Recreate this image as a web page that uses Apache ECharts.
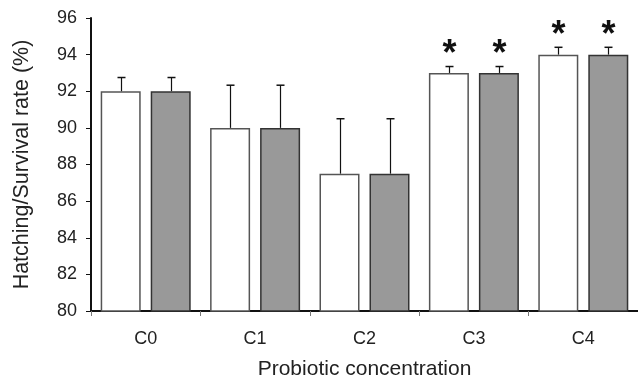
<!DOCTYPE html>
<html><head><meta charset="utf-8">
<script src="https://cdn.jsdelivr.net/npm/echarts@6/dist/echarts.min.js"></script>
<style>html,body{margin:0;padding:0;background:#fff}#c{width:638px;height:385px}</style>
</head><body><div id="c"></div>
<script>
const categories = ['C0','C1','C2','C3','C4'];
const hatching = [92, 90, 87.5, 93, 94];
const hatchingErr = [0.75, 2.33, 3.0, 0.35, 0.4];
const survival = [92, 90, 87.5, 93, 94];
const survivalErr = [0.75, 2.33, 3.0, 0.35, 0.4];
const significant = ['', '', '', '*', '*'];
const yTicks = [80, 82, 84, 86, 88, 90, 92, 94, 96];

const FONT = '"Liberation Sans", Arial, sans-serif';
const BAR_W = 40, OFFSET = 25;
function errSeries(vals, errs, off) {
  return {
    type: 'custom', z: 5,
    data: vals.map((v, i) => [i, v, v + errs[i], significant[i]]),
    renderItem: function (params, api) {
      const base = api.coord([api.value(0), api.value(1)]);
      const top = api.coord([api.value(0), api.value(2)]);
      const x = Math.round(base[0] + off) + 0.5;
      const children = [
        {type: 'line', shape: {x1: x, y1: base[1], x2: x, y2: top[1]}, style: {stroke: '#111', lineWidth: 1.2}},
        {type: 'line', shape: {x1: x - 4, y1: top[1], x2: x + 4, y2: top[1]}, style: {stroke: '#111', lineWidth: 1.5}}
      ];
      const s = api.value(3);
      if (s) children.push({type: 'text', style: {text: s, x: x, y: top[1] + 7, align: 'center', verticalAlign: 'bottom', font: 'bold 36px ' + FONT, fill: '#111'}});
      return {type: 'group', children: children};
    }
  };
}

const chart = echarts.init(document.getElementById('c'), null, {renderer: 'canvas'});
chart.setOption({
  animation: false,
  grid: {left: 91, top: 18, width: 550, height: 293},
  xAxis: {
    type: 'category', data: categories,
    axisLine: {lineStyle: {color: '#111', width: 2}},
    axisTick: {show: true, length: 5, lineStyle: {color: '#777', width: 1}},
    axisLabel: {fontSize: 18, color: '#222', margin: 19, fontFamily: FONT},
    name: 'Probiotic concentration', nameLocation: 'middle', nameGap: 48,
    nameTextStyle: {fontSize: 21, color: '#222', fontFamily: FONT}
  },
  yAxis: {
    type: 'value', min: 80, max: 96, interval: 2,
    axisLine: {show: true, lineStyle: {color: '#111', width: 2}},
    axisTick: {show: true, length: 5, lineStyle: {color: '#111', width: 1}},
    splitLine: {show: false},
    axisLabel: {fontSize: 18, color: '#222', margin: 14, fontFamily: FONT,
      formatter: v => yTicks.includes(v) ? String(v) : ''},
    name: 'Hatching/Survival rate (%)', nameLocation: 'middle', nameGap: 58,
    nameTextStyle: {fontSize: 21.5, color: '#222', fontFamily: FONT}
  },
  series: [
    {type: 'bar', data: hatching, barWidth: BAR_W, barGap: '25%',
     itemStyle: {color: '#ffffff', borderColor: '#555', borderWidth: 1.5}},
    {type: 'bar', data: survival, barWidth: BAR_W,
     itemStyle: {color: '#999999', borderColor: '#333', borderWidth: 1.5}},
    errSeries(hatching, hatchingErr, -OFFSET),
    errSeries(survival, survivalErr, OFFSET)
  ]
});
</script></body></html>
